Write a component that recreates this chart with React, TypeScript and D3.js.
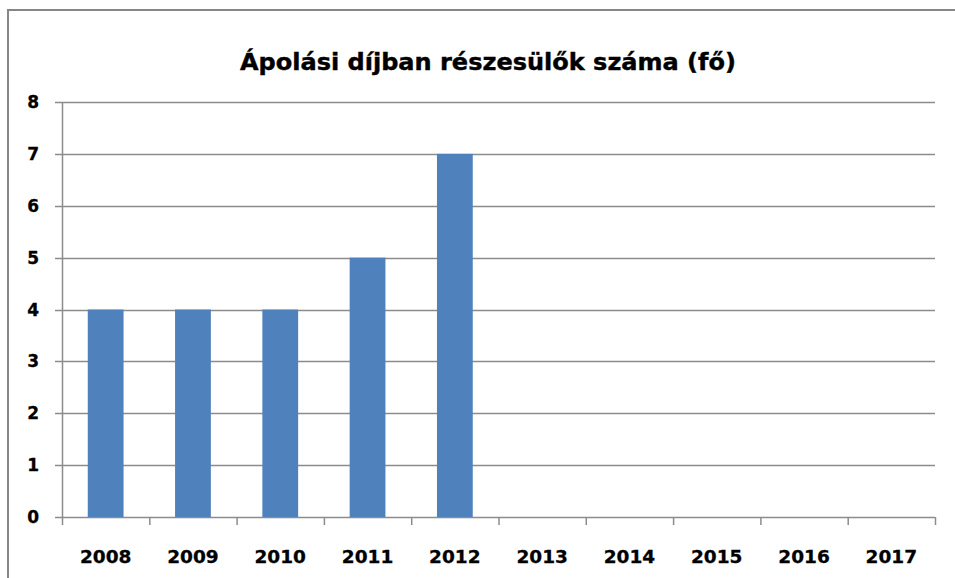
import React from "react";
import * as d3 from "d3";

const categories = ["2008", "2009", "2010", "2011", "2012", "2013", "2014", "2015", "2016", "2017"];
const values = [4, 4, 4, 5, 7, 0, 0, 0, 0, 0];
const yTicks = [0, 1, 2, 3, 4, 5, 6, 7, 8];
const title = "Ápolási díjban részesülők száma (fő)";

const W = 955;
const H = 578;
const plotLeft = 62;
const plotRight = 935;
const plotTop = 102;
const plotBottom = 517;

export default function App() {
  const x = d3.scaleBand<string>().domain(categories).range([plotLeft, plotRight]).padding(0);
  const y = d3.scaleLinear().domain([0, 8]).range([plotBottom, plotTop]);
  const bw = x.bandwidth() * 0.41;
  const font = "'DejaVu Sans', Verdana, sans-serif";
  const grid = "#8c8c8c";
  const tickXs = categories.map((c) => x(c) as number).concat([plotRight]);
  return (
    <svg width={W} height={H} style={{ position: "absolute", left: 0, top: 0, background: "#fff" }}>
      <rect x={8} y={10} width={W + 10} height={H + 10} fill="#fff" stroke="#868686" strokeWidth={2} />
      <text x={488} y={70} textAnchor="middle" fontFamily={font} fontWeight="bold" fontSize={23}
        textLength={496} lengthAdjust="spacingAndGlyphs" fill="#000" stroke="#000" strokeWidth={0.4}>{title}</text>
      {yTicks.map((t) => (
        <g key={t}>
          <line x1={plotLeft - 7} x2={plotRight} y1={Math.round(y(t)) + 0.5} y2={Math.round(y(t)) + 0.5} stroke={grid} strokeWidth={1.5} />
          <text x={39} y={y(t)} dy="0.36em" textAnchor="end" fontFamily={font} fontWeight="bold" fontSize={17}
            fill="#000" stroke="#000" strokeWidth={0.3}>{t}</text>
        </g>
      ))}
      <line x1={plotLeft + 0.5} x2={plotLeft + 0.5} y1={plotTop} y2={plotBottom} stroke={grid} strokeWidth={1.5} />
      {categories.map((c, i) =>
        values[i] > 0 ? (
          <rect key={c} x={(x(c) as number) + x.bandwidth() / 2 - bw / 2} y={y(values[i])} width={bw}
            height={y(0) - y(values[i])} fill="#4F81BD" />
        ) : null
      )}
      {tickXs.map((tx, i) => (
        <line key={i} x1={tx + 0.5} x2={tx + 0.5} y1={plotBottom} y2={plotBottom + 8} stroke={grid} strokeWidth={1.5} />
      ))}
      {categories.map((c) => (
        <text key={c} x={(x(c) as number) + x.bandwidth() / 2} y={563} textAnchor="middle" fontFamily={font}
          fontWeight="bold" fontSize={18.5} fill="#000" stroke="#000" strokeWidth={0.3}>{c}</text>
      ))}
    </svg>
  );
}
